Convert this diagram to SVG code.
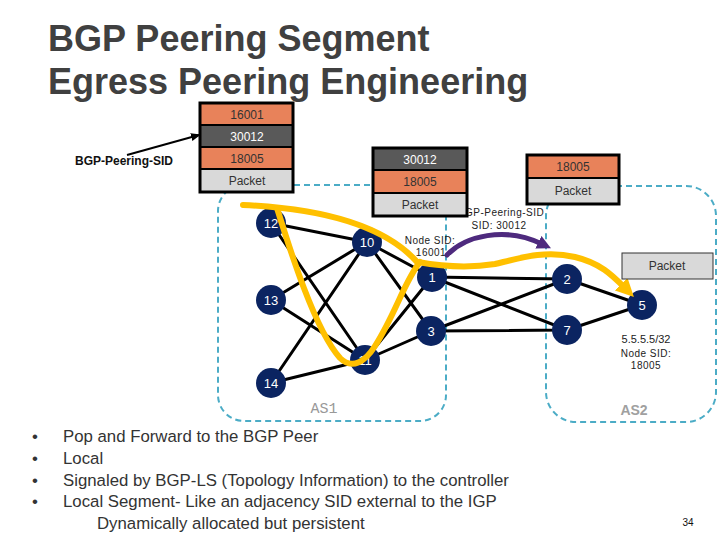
<svg xmlns="http://www.w3.org/2000/svg" width="720" height="540" viewBox="0 0 720 540">
<defs>
<style>
.title{font-family:"Liberation Sans",Arial,sans-serif;font-weight:bold;font-size:36px;fill:#404040}
.bul{font-family:"Liberation Sans",Arial,sans-serif;font-size:16.8px;fill:#333}
.cell{font-family:"Liberation Sans",Arial,sans-serif;font-size:12px;fill:#333;text-anchor:middle}
.cellw{font-family:"Liberation Sans",Arial,sans-serif;font-size:12px;fill:#fff;text-anchor:middle}
.small{font-family:"Liberation Sans",Arial,sans-serif;font-size:10px;fill:#222;text-anchor:middle;letter-spacing:0.5px}
.nl{font-family:"Liberation Sans",Arial,sans-serif;font-size:13px;fill:#fff;text-anchor:middle}
.node circle{fill:#0B2461}
.edge{stroke:#000;stroke-width:3;fill:none}
.as{fill:none;stroke:#4BACC6;stroke-width:2;stroke-dasharray:6,4}
.or{fill:#E8825A;stroke:#000;stroke-width:2}
.dk{fill:#595959;stroke:#000;stroke-width:2}
.gr{fill:#D9D9D9;stroke:#000;stroke-width:2}
.outer{fill:none;stroke:#000;stroke-width:3}
</style>
<marker id="ya" markerUnits="userSpaceOnUse" markerWidth="20" markerHeight="18" refX="4" refY="9" orient="auto"><path d="M0,0 L18,9 L0,18 Z" fill="#FFC000"/></marker>
<marker id="pa" markerUnits="userSpaceOnUse" markerWidth="16" markerHeight="14" refX="4" refY="7" orient="auto"><path d="M0,0 L14,7 L0,14 Z" fill="#4E2A7E"/></marker>
<marker id="ba" markerUnits="userSpaceOnUse" markerWidth="10" markerHeight="10" refX="8" refY="5" orient="auto"><path d="M0,1 L10,5 L0,9 Z" fill="#000"/></marker>
</defs>
<rect width="720" height="540" fill="#fff"/>

<text class="title" x="48" y="51">BGP Peering Segment</text>
<text class="title" x="48" y="94">Egress Peering Engineering</text>

<g id="as1"><rect class="as" x="218" y="185" width="228" height="236" rx="26"/><text x="324" y="413" font-family="'Liberation Mono',monospace" font-size="15" fill="#999" text-anchor="middle">AS1</text></g>
<g id="as2"><rect class="as" x="546" y="186" width="170" height="236" rx="30"/><text x="634" y="415" font-family="'Liberation Sans',Arial,sans-serif" font-weight="bold" font-size="14" fill="#A0A0A0" text-anchor="middle">AS2</text></g>

<g id="connectors">
<path class="edge" d="M271,223 L367,242 M271,223 L365,360 M271,300 L367,242 M271,300 L365,360 M271,383 L367,242 M271,383 L365,360 M367,242 L432,277 M367,242 L431,331 M365,360 L432,277 M365,360 L431,331 M432,277 L567,279 M432,277 L567,330 M431,331 L567,279 M431,331 L567,330 M567,279 L642,305 M567,330 L642,305"/>
</g>

<g id="n12" class="node"><circle cx="271" cy="223" r="15"/><text class="nl" x="271" y="228">12</text></g>
<g id="n13" class="node"><circle cx="271" cy="300" r="15"/><text class="nl" x="271" y="305">13</text></g>
<g id="n14" class="node"><circle cx="271" cy="383" r="15"/><text class="nl" x="271" y="388">14</text></g>
<g id="n10" class="node"><circle cx="367" cy="242" r="15"/><text class="nl" x="367" y="247">10</text></g>
<g id="n11" class="node"><circle cx="365" cy="360" r="15"/><text class="nl" x="365" y="365">11</text></g>
<g id="n1" class="node"><circle cx="432" cy="277" r="15"/><text class="nl" x="432" y="282">1</text></g>
<g id="n3" class="node"><circle cx="431" cy="331" r="15"/><text class="nl" x="431" y="336">3</text></g>
<g id="n2" class="node"><circle cx="567" cy="279" r="15"/><text class="nl" x="567" y="284">2</text></g>
<g id="n7" class="node"><circle cx="567" cy="330" r="15"/><text class="nl" x="567" y="335">7</text></g>
<g id="n5" class="node"><circle cx="642" cy="305" r="15"/><text class="nl" x="642" y="310">5</text></g>

<g id="paths" fill="none" stroke-linecap="round">
<path d="M243,205 C310,208 382,222 418,263" stroke="#FFC000" stroke-width="6"/>
<path d="M277,208 C290,250 315,330 340,358 C352,370 365,362 375,346 C395,315 405,280 420,262" stroke="#FFC000" stroke-width="6"/>
<path d="M418,262 C440,266 470,268 495,264 C520,258 545,250 575,257 C600,263 612,275 624,287" stroke="#FFC000" stroke-width="6" marker-end="url(#ya)"/>
<path d="M447,255 C465,236 505,226 542,244" stroke="#4E2A7E" stroke-width="5" marker-end="url(#pa)"/>
</g>

<text class="small" x="430" y="244">Node SID:</text>
<text class="small" x="431" y="256">16001</text>
<text class="small" x="501" y="216">BGP-Peering-SID</text>
<text class="small" x="499" y="229">SID: 30012</text>
<text x="646" y="343" font-family="'Liberation Sans',Arial,sans-serif" font-size="11" fill="#222" text-anchor="middle">5.5.5.5/32</text>
<text class="small" x="646" y="357" font-size="9">Node SID:</text>
<text class="small" x="646" y="369" font-size="9">18005</text>

<g id="stack1">
<rect class="or" x="200" y="103" width="93" height="22"/>
<rect class="dk" x="200" y="125" width="93" height="22"/>
<rect class="or" x="200" y="147" width="93" height="22"/>
<rect class="gr" x="200" y="169" width="93" height="23"/>
<rect class="outer" x="200" y="103" width="93" height="89"/>
<text class="cell" x="247" y="119">16001</text>
<text class="cellw" x="247" y="141">30012</text>
<text class="cell" x="247" y="163">18005</text>
<text class="cell" x="247" y="185">Packet</text>
</g>
<g id="stack2">
<rect class="dk" x="373" y="148" width="94" height="22"/>
<rect class="or" x="373" y="170" width="94" height="23"/>
<rect class="gr" x="373" y="193" width="94" height="23"/>
<rect class="outer" x="373" y="148" width="94" height="68"/>
<text class="cellw" x="420" y="164">30012</text>
<text class="cell" x="420" y="186">18005</text>
<text class="cell" x="420" y="209">Packet</text>
</g>
<g id="stack3">
<rect class="or" x="527" y="155" width="92" height="23"/>
<rect class="gr" x="527" y="178" width="92" height="26"/>
<rect class="outer" x="527" y="155" width="92" height="49"/>
<text class="cell" x="573" y="171">18005</text>
<text class="cell" x="573" y="195">Packet</text>
</g>
<g id="packet">
<rect x="622" y="253" width="91" height="26" fill="#D9D9D9" stroke="#333" stroke-width="1"/>
<text class="cell" x="667" y="270">Packet</text>
</g>

<g id="sidlabel">
<text x="75" y="165" font-family="'Liberation Sans',Arial,sans-serif" font-weight="bold" font-size="12" fill="#111">BGP-Peering-SID</text>
<line x1="127" y1="155" x2="199" y2="135" stroke="#000" stroke-width="2" marker-end="url(#ba)"/>
</g>

<g id="bullets">
<text class="bul" x="32" y="442">•</text><text class="bul" x="63" y="442">Pop and Forward to the BGP Peer</text>
<text class="bul" x="32" y="464">•</text><text class="bul" x="63" y="464">Local</text>
<text class="bul" x="32" y="486">•</text><text class="bul" x="63" y="486">Signaled by BGP-LS (Topology Information) to the controller</text>
<text class="bul" x="32" y="507">•</text><text class="bul" x="63" y="507">Local Segment- Like an adjacency SID external to the IGP</text>
<text class="bul" x="97" y="529">Dynamically allocated but persistent</text>
</g>
<text x="688" y="526" font-family="'Liberation Sans',Arial,sans-serif" font-size="10" fill="#111" text-anchor="middle">34</text>
</svg>
